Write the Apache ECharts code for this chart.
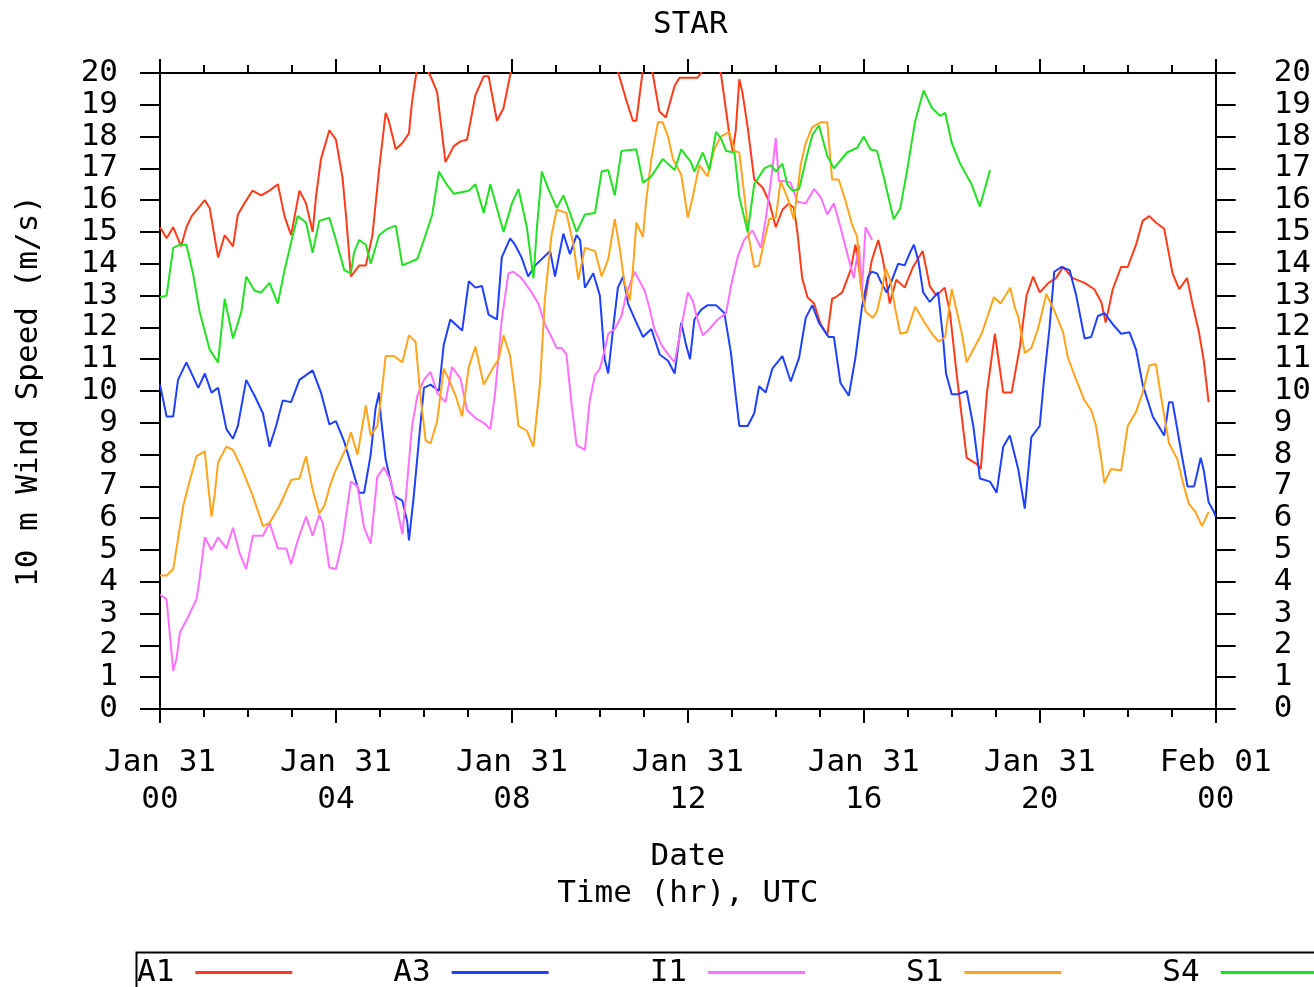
<!DOCTYPE html>
<html>
<head>
<meta charset="utf-8">
<script src="https://cdn.jsdelivr.net/npm/echarts@6/dist/echarts.min.js"></script>
<style>
html,body{margin:0;padding:0;background:#fff;}
#chart{width:1314px;height:987px;}
</style>
</head>
<body>
<div id="chart"></div>
<script>
// ---- data (hours since Jan 31 00 UTC, wind speed m/s) ----
const seriesNames = ['A1', 'A3', 'I1', 'S1', 'S4'];
const xTickLabels = ['Jan 31\n00', 'Jan 31\n04', 'Jan 31\n08', 'Jan 31\n12', 'Jan 31\n16', 'Jan 31\n20', 'Feb 01\n00'];
const yTickLabels = ['0','1','2','3','4','5','6','7','8','9','10','11','12','13','14','15','16','17','18','19','20'];

const a1 = [[0,15.15],[0.15,14.8],[0.3,15.15],[0.48,14.55],[0.6,15.15],[0.72,15.5],[1.02,16.0],[1.13,15.75],[1.32,14.2],[1.47,14.9],[1.66,14.55],[1.77,15.55],[1.92,15.9],[2.1,16.3],[2.3,16.15],[2.49,16.3],[2.68,16.5],[2.83,15.5],[2.98,14.9],[3.17,16.3],[3.32,15.9],[3.47,15.0],[3.55,16.15],[3.66,17.3],[3.85,18.2],[4.0,17.9],[4.15,16.7],[4.23,15.5],[4.34,13.6],[4.53,13.95],[4.68,13.95],[4.83,14.9],[4.98,16.95],[5.13,18.75],[5.2,18.5],[5.36,17.6],[5.51,17.8],[5.66,18.1],[5.73,19.1],[5.85,20.2],[6.0,20.3],[6.15,19.9],[6.3,19.4],[6.49,17.2],[6.68,17.7],[6.83,17.85],[6.98,17.9],[7.17,19.3],[7.36,19.9],[7.47,19.9],[7.66,18.5],[7.81,18.9],[8.0,20.2],[9.2,21.5],[10.4,20.1],[10.6,19.15],[10.75,18.5],[10.83,18.5],[10.94,19.7],[11.0,20.3],[11.1,20.3],[11.2,20.0],[11.35,18.8],[11.5,18.6],[11.7,19.6],[11.81,19.85],[12.0,19.85],[12.22,19.85],[12.35,20.1],[12.6,20.4],[12.75,20.0],[12.83,19.2],[12.94,18.1],[13.02,17.55],[13.09,18.2],[13.17,19.8],[13.24,19.4],[13.36,18.3],[13.51,16.65],[13.7,16.4],[13.85,15.95],[14.0,15.15],[14.15,15.7],[14.3,15.9],[14.41,15.75],[14.49,15.0],[14.6,13.55],[14.72,12.95],[14.87,12.75],[15.02,12.1],[15.17,11.75],[15.28,12.9],[15.36,12.95],[15.51,13.1],[15.7,13.8],[15.81,14.6],[15.92,13.6],[16.0,12.65],[16.18,14.1],[16.33,14.75],[16.44,14.1],[16.59,12.75],[16.74,13.5],[16.93,13.25],[17.12,13.9],[17.34,14.4],[17.5,13.3],[17.65,13.0],[17.84,13.25],[17.96,12.45],[18.11,10.55],[18.34,7.9],[18.57,7.7],[18.66,7.55],[18.8,9.95],[18.98,11.8],[19.17,9.95],[19.36,9.95],[19.55,11.4],[19.7,13.0],[19.85,13.6],[20.0,13.1],[20.2,13.4],[20.37,13.55],[20.53,13.9],[20.75,13.55],[21.02,13.4],[21.24,13.2],[21.4,12.8],[21.5,12.15],[21.66,13.2],[21.85,13.9],[22.0,13.9],[22.19,14.6],[22.34,15.35],[22.49,15.5],[22.64,15.3],[22.83,15.1],[23.02,13.7],[23.17,13.2],[23.35,13.55],[23.47,12.75],[23.62,11.85],[23.73,10.95],[23.84,9.65]];

const a3 = [[0,10.2],[0.15,9.2],[0.3,9.2],[0.41,10.35],[0.6,10.9],[0.87,10.1],[1.02,10.55],[1.17,9.95],[1.32,10.1],[1.51,8.8],[1.66,8.5],[1.77,8.9],[1.96,10.35],[2.15,9.85],[2.34,9.3],[2.49,8.25],[2.64,8.9],[2.79,9.7],[2.98,9.65],[3.17,10.35],[3.47,10.65],[3.66,9.95],[3.85,8.95],[4.0,9.05],[4.19,8.4],[4.34,7.7],[4.53,6.8],[4.64,6.8],[4.79,8.0],[4.9,9.45],[4.98,9.95],[5.02,9.2],[5.13,7.85],[5.32,6.7],[5.51,6.55],[5.62,5.9],[5.66,5.3],[5.77,6.7],[5.89,8.5],[6.0,10.1],[6.15,10.2],[6.34,10.0],[6.45,11.45],[6.6,12.25],[6.87,11.9],[7.02,13.45],[7.17,13.25],[7.32,13.3],[7.47,12.4],[7.66,12.25],[7.77,14.2],[7.96,14.8],[8.07,14.6],[8.22,14.2],[8.37,13.6],[8.53,13.95],[8.87,14.4],[8.98,13.6],[9.17,14.95],[9.32,14.3],[9.47,14.9],[9.55,14.75],[9.66,13.25],[9.85,13.7],[10.0,13.0],[10.11,11.0],[10.19,10.55],[10.3,11.95],[10.41,13.25],[10.53,13.6],[10.64,12.75],[10.83,12.15],[10.98,11.7],[11.17,11.95],[11.36,11.15],[11.55,10.95],[11.7,10.55],[11.85,12.15],[11.96,11.45],[12.05,11.0],[12.15,12.25],[12.3,12.55],[12.45,12.7],[12.64,12.7],[12.83,12.45],[12.98,11.2],[13.09,9.85],[13.17,8.9],[13.36,8.9],[13.51,9.3],[13.62,10.15],[13.77,9.95],[13.92,10.7],[14.15,11.1],[14.34,10.3],[14.53,11.05],[14.68,12.3],[14.83,12.7],[14.98,12.15],[15.2,11.7],[15.32,11.7],[15.47,10.25],[15.66,9.85],[15.81,11.05],[15.96,12.65],[16.1,13.6],[16.18,13.75],[16.3,13.7],[16.4,13.4],[16.52,13.1],[16.63,13.45],[16.78,14.0],[16.93,13.95],[17.05,14.35],[17.14,14.6],[17.24,14.1],[17.35,13.1],[17.5,12.8],[17.69,13.1],[17.8,11.7],[17.87,10.55],[18.0,9.9],[18.15,9.9],[18.34,10.0],[18.49,8.9],[18.64,7.25],[18.87,7.15],[19.02,6.8],[19.17,8.25],[19.32,8.6],[19.51,7.55],[19.66,6.3],[19.81,8.55],[20.0,8.9],[20.1,10.4],[20.22,11.95],[20.33,13.75],[20.49,13.9],[20.68,13.8],[20.83,13.0],[21.02,11.65],[21.17,11.7],[21.32,12.35],[21.47,12.45],[21.66,12.1],[21.85,11.8],[22.04,11.85],[22.19,11.3],[22.34,10.2],[22.57,9.2],[22.83,8.6],[22.94,9.65],[23.02,9.65],[23.24,7.9],[23.36,7.0],[23.51,7.0],[23.66,7.9],[23.73,7.5],[23.84,6.5],[23.96,6.2],[24,6.05]];

const i1 = [[0,3.6],[0.15,3.45],[0.23,2.25],[0.3,1.2],[0.38,1.6],[0.45,2.4],[0.64,2.9],[0.83,3.45],[0.9,4.1],[1.02,5.4],[1.17,5.0],[1.32,5.4],[1.51,5.05],[1.66,5.7],[1.81,4.9],[1.96,4.4],[2.11,5.45],[2.34,5.45],[2.49,5.85],[2.68,5.05],[2.87,5.05],[2.98,4.55],[3.13,5.3],[3.32,6.05],[3.47,5.45],[3.62,6.1],[3.7,5.85],[3.85,4.45],[4.0,4.4],[4.15,5.3],[4.34,7.15],[4.49,7.0],[4.64,5.7],[4.79,5.2],[4.94,7.3],[5.09,7.6],[5.24,7.2],[5.36,6.5],[5.51,5.5],[5.58,6.5],[5.73,8.9],[5.85,9.85],[6.0,10.35],[6.15,10.6],[6.3,9.95],[6.49,9.65],[6.64,10.75],[6.83,10.4],[6.98,9.4],[7.17,9.15],[7.36,9.0],[7.51,8.8],[7.62,9.95],[7.77,12.25],[7.92,13.7],[8.03,13.75],[8.22,13.55],[8.45,13.1],[8.6,12.75],[8.75,12.1],[8.9,11.7],[9.02,11.35],[9.13,11.35],[9.24,11.15],[9.36,9.55],[9.47,8.3],[9.66,8.15],[9.77,9.7],[9.89,10.5],[10.0,10.7],[10.11,11.3],[10.19,11.8],[10.34,11.95],[10.49,12.35],[10.6,13.05],[10.79,13.75],[11.02,13.15],[11.13,12.6],[11.24,11.95],[11.4,11.45],[11.55,11.15],[11.7,10.9],[11.85,12.0],[12.0,13.1],[12.11,12.85],[12.22,12.25],[12.34,11.75],[12.49,11.95],[12.68,12.25],[12.87,12.45],[12.98,13.3],[13.13,14.2],[13.28,14.75],[13.47,15.05],[13.66,14.5],[13.77,15.4],[13.89,16.6],[14.0,17.95],[14.07,16.6],[14.19,16.6],[14.34,16.55],[14.49,15.95],[14.68,15.9],[14.87,16.35],[15.02,16.1],[15.17,15.55],[15.32,15.9],[15.47,15.15],[15.62,14.35],[15.77,13.55],[15.89,14.6],[15.96,13.2],[16.04,15.15],[16.19,14.75]];

const s1 = [[0,4.2],[0.15,4.2],[0.3,4.4],[0.41,5.35],[0.53,6.4],[0.68,7.2],[0.83,7.95],[1.02,8.1],[1.09,7.1],[1.17,6.05],[1.24,6.7],[1.32,7.75],[1.51,8.25],[1.66,8.15],[1.85,7.6],[2.11,6.7],[2.34,5.75],[2.49,5.85],[2.72,6.4],[2.98,7.2],[3.17,7.25],[3.32,7.95],[3.47,6.9],[3.62,6.15],[3.74,6.4],[3.85,6.95],[3.96,7.4],[4.11,7.85],[4.23,8.2],[4.34,8.7],[4.49,8.0],[4.6,8.9],[4.68,9.55],[4.79,8.6],[4.94,8.9],[5.02,9.7],[5.13,11.1],[5.32,11.1],[5.51,10.9],[5.66,11.75],[5.81,11.55],[5.92,9.85],[6.04,8.45],[6.15,8.35],[6.3,9.05],[6.45,10.7],[6.57,10.35],[6.72,9.85],[6.87,9.2],[7.02,10.75],[7.17,11.4],[7.36,10.2],[7.58,10.75],[7.7,11.0],[7.81,11.75],[7.96,11.1],[8.07,9.9],[8.15,8.9],[8.34,8.75],[8.49,8.25],[8.53,8.2],[8.64,10.25],[8.75,12.9],[8.9,14.9],[9.02,15.7],[9.24,15.6],[9.4,14.6],[9.51,13.5],[9.66,14.5],[9.89,14.4],[10.04,13.6],[10.19,14.15],[10.34,15.4],[10.45,14.5],[10.56,13.4],[10.68,12.85],[10.75,13.8],[10.83,15.3],[10.98,14.85],[11.05,15.95],[11.17,17.3],[11.32,18.45],[11.43,18.45],[11.55,18.0],[11.66,17.3],[11.85,16.8],[12.0,15.45],[12.11,16.1],[12.2,16.7],[12.26,17.1],[12.45,16.75],[12.6,17.6],[12.75,18.0],[12.94,18.15],[13.06,17.55],[13.17,17.5],[13.28,16.2],[13.39,14.8],[13.51,13.9],[13.62,13.95],[13.74,14.75],[13.85,15.4],[14.0,15.45],[14.11,16.6],[14.26,16.1],[14.41,15.4],[14.57,17.15],[14.68,17.8],[14.83,18.3],[15.02,18.45],[15.17,18.45],[15.28,16.65],[15.43,16.65],[15.58,16.0],[15.73,15.25],[15.85,14.85],[15.92,13.4],[16.04,12.5],[16.2,12.3],[16.3,12.5],[16.4,13.1],[16.5,13.85],[16.6,13.5],[16.72,12.55],[16.83,11.8],[16.98,11.85],[17.17,12.65],[17.36,12.2],[17.55,11.8],[17.7,11.55],[17.85,11.7],[18.0,13.2],[18.1,12.6],[18.23,11.8],[18.34,10.9],[18.45,11.2],[18.68,11.8],[18.96,12.95],[19.11,12.75],[19.33,13.25],[19.44,12.6],[19.51,12.35],[19.66,11.2],[19.81,11.35],[19.96,11.95],[20.15,13.05],[20.34,12.5],[20.53,11.85],[20.64,11.05],[20.83,10.35],[21.02,9.7],[21.17,9.4],[21.28,8.9],[21.4,7.85],[21.47,7.1],[21.62,7.55],[21.85,7.5],[22.0,8.9],[22.19,9.35],[22.34,9.95],[22.49,10.8],[22.64,10.85],[22.79,9.55],[22.94,8.35],[23.13,7.85],[23.24,7.2],[23.39,6.45],[23.54,6.2],[23.69,5.75],[23.84,6.2]];

const s4 = [[0,12.95],[0.15,13.0],[0.3,14.5],[0.45,14.6],[0.6,14.6],[0.75,13.7],[0.9,12.5],[1.13,11.3],[1.32,10.9],[1.47,12.9],[1.66,11.65],[1.85,12.5],[1.96,13.6],[2.15,13.15],[2.3,13.1],[2.49,13.4],[2.68,12.75],[2.83,13.8],[3.02,14.9],[3.13,15.5],[3.32,15.3],[3.47,14.35],[3.62,15.35],[3.85,15.45],[4.0,14.75],[4.19,13.8],[4.34,13.7],[4.41,14.35],[4.53,14.75],[4.68,14.6],[4.79,14.0],[4.98,14.9],[5.17,15.1],[5.36,15.2],[5.51,13.95],[5.85,14.15],[6.0,14.75],[6.19,15.55],[6.34,16.9],[6.49,16.55],[6.68,16.2],[7.02,16.3],[7.17,16.5],[7.36,15.6],[7.51,16.5],[7.81,15.0],[8.0,15.9],[8.15,16.35],[8.34,15.15],[8.49,13.55],[8.57,15.15],[8.68,16.9],[8.83,16.35],[9.02,15.75],[9.17,16.15],[9.32,15.6],[9.47,15.0],[9.66,15.55],[9.89,15.6],[10.04,16.9],[10.19,16.95],[10.34,16.15],[10.49,17.55],[10.83,17.6],[10.98,16.55],[11.17,16.75],[11.43,17.3],[11.7,16.95],[11.85,17.6],[12.07,17.2],[12.15,16.9],[12.34,17.5],[12.49,16.95],[12.64,18.15],[12.75,17.95],[12.87,17.55],[13.06,17.5],[13.17,16.1],[13.36,15.0],[13.51,16.5],[13.74,17.0],[13.89,17.1],[14.0,16.9],[14.15,17.15],[14.26,16.5],[14.38,16.3],[14.53,16.35],[14.68,17.25],[14.83,18.05],[14.98,18.35],[15.17,17.4],[15.32,17.0],[15.62,17.5],[15.85,17.65],[16.0,18.0],[16.15,17.6],[16.3,17.55],[16.45,16.75],[16.68,15.4],[16.83,15.75],[16.98,16.9],[17.17,18.5],[17.36,19.45],[17.55,18.9],[17.74,18.65],[17.85,18.75],[18.0,17.8],[18.19,17.15],[18.45,16.5],[18.64,15.8],[18.87,16.95]];

const seriesData = [a1, a3, i1, s1, s4];
const seriesColors = ['#ff3b1a', '#1f40ff', '#ff70ff', '#ffa41c', '#22e022'];

// ---- chart ----
const FONT = 'DejaVu Sans Mono';
const FS = 31;
const chart = echarts.init(document.getElementById('chart'), null, {renderer: 'canvas'});

function xAxisBase(pos, showLabels) {
  return {
    type: 'value', position: pos, min: 0, max: 24, interval: 4,
    axisLine: {show: true, onZero: false, lineStyle: {color: '#000', width: 2}},
    axisTick: {show: true, inside: false, length: 14, lineStyle: {color: '#000', width: 2}},
    minorTick: {show: true, splitNumber: 4, length: 8, lineStyle: {color: '#000', width: 2}},
    splitLine: {show: false},
    minorSplitLine: {show: false},
    axisLabel: showLabels ? {
      show: true, margin: 35, fontFamily: FONT, fontSize: FS, color: '#000', lineHeight: 37,
      formatter: v => xTickLabels[Math.round(v / 4)]
    } : {show: false}
  };
}

function yAxisBase(pos) {
  return {
    type: 'value', position: pos, min: 0, max: 20, interval: 1,
    axisLine: {show: true, onZero: false, lineStyle: {color: '#000', width: 2}},
    axisTick: {show: true, inside: false, length: 20, lineStyle: {color: '#000', width: 2}},
    splitLine: {show: false},
    axisLabel: {
      show: true, margin: pos === 'left' ? 42 : 58, fontFamily: FONT, fontSize: FS, color: '#000',
      align: pos === 'left' ? 'right' : 'left',
      formatter: v => yTickLabels[Math.round(v)]
    }
  };
}

const xBottom = xAxisBase('bottom', true);
xBottom.name = 'Date\nTime (hr), UTC';
xBottom.nameLocation = 'middle';
xBottom.nameGap = 129;
xBottom.nameTextStyle = {fontFamily: FONT, fontSize: FS, color: '#000', lineHeight: 37, align: 'center'};

const yLeft = yAxisBase('left');
yLeft.name = '10 m Wind Speed (m/s)';
yLeft.nameLocation = 'middle';
yLeft.nameGap = 116;
yLeft.nameTextStyle = {fontFamily: FONT, fontSize: FS, color: '#000'};

const option = {
  backgroundColor: '#fff',
  animation: false,
  title: {
    text: 'STAR', left: 648, top: 4,
    textStyle: {fontFamily: FONT, fontSize: FS, fontWeight: 'normal', color: '#000'}
  },
  grid: {left: 160, right: 91, top: 73, bottom: 278, containLabel: false},
  xAxis: [xBottom, xAxisBase('top', false)],
  yAxis: [yLeft, yAxisBase('right')],
  legend: {
    show: true, left: 132, top: 952, width: 1500, orient: 'horizontal', align: 'right',
    itemWidth: 97, itemHeight: 3, itemGap: 101, icon: 'rect',
    textStyle: {fontFamily: FONT, fontSize: FS, color: '#000', padding: [0, 16, 0, 0]},
    data: seriesNames
  },
  graphic: [{
    type: 'rect', left: 134, top: 950, silent: true, z: -1,
    shape: {width: 1200, height: 36},
    style: {fill: 'none', stroke: '#000', lineWidth: 2}
  }],
  series: seriesNames.map((n, k) => ({
    name: n, type: 'line', xAxisIndex: 0, yAxisIndex: 0,
    data: seriesData[k], showSymbol: false, symbol: 'none', clip: true,
    color: seriesColors[k],
    lineStyle: {color: seriesColors[k], width: 2}
  }))
};
chart.setOption(option);
</script>
</body>
</html>
